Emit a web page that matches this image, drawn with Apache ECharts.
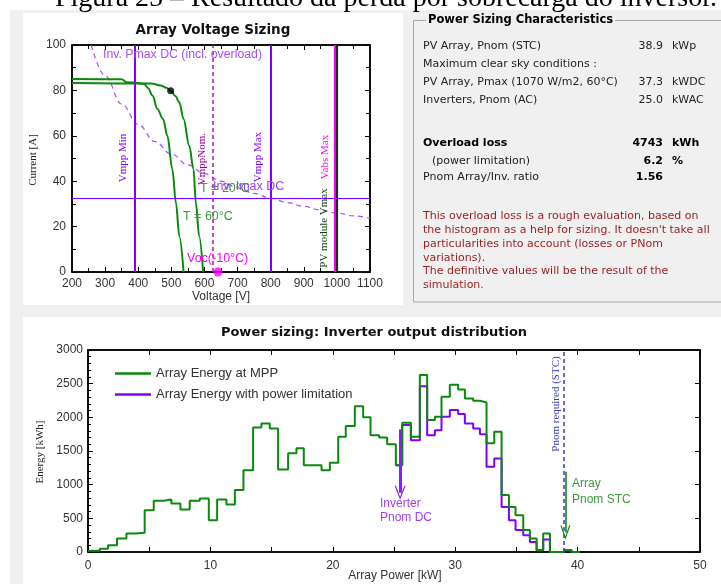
<!DOCTYPE html>
<html><head><meta charset="utf-8">
<script src="https://cdn.jsdelivr.net/npm/echarts@6/dist/echarts.min.js"></script>
<style>html,body{margin:0;padding:0;background:#fff}#c{width:721px;height:584px}</style>
</head><body><div id="c"></div>
<script>
// ---------- DATA ----------
// Array Voltage Sizing (V, A)
const ivVolt60 = [200, 350, 365, 400, 418, 430, 443, 458, 475, 488, 503, 514, 524, 537];
const ivCurr60 = [85.0, 84.9, 83.6, 83.3, 82.8, 81.0, 77.7, 71.8, 67.4, 60.0, 45.3, 30.5, 15.8, 0];
const ivVolt20 = [200, 440, 468, 485, 498, 512, 524, 537, 554, 567, 574, 584, 596];
const ivCurr20 = [83.3, 83.0, 82.2, 81.2, 79.9, 77.5, 74.8, 67.4, 55.6, 45.3, 30.5, 15.8, 0];
const pmaxVolt = [258, 300, 350, 400, 450, 500, 550, 600, 650, 700, 750, 800, 850, 900, 950, 1000, 1050, 1100];
const pmaxCurr = [100, 86.5, 74, 65, 57.5, 52, 47.2, 43.3, 40, 37.1, 34.6, 32.5, 30.6, 28.9, 27.3, 26, 24.7, 23.6];
const mppPoint = [498, 79.9];
const vocPoint = [641, 0];
const vmppMin = 390, vmppNom = 625, vmppMax = 800, vabsMax = 995, moduleVmax = 1001, imaxDC = 32.7;
const voltTicks = [200, 1100, 100];
const currTicks = [0, 100, 20];

// Power sizing histogram (kW bin left edges, kWh)
const binEdges = [0, 0.96, 1.64, 2.37, 3.14, 3.89, 4.63, 5.37, 6.19, 6.81,
  7.55, 8.31, 9.13, 9.87, 10.55, 11.31, 12.0, 12.7, 13.49, 14.17,
  14.85, 15.53, 16.35, 17.03, 17.63, 18.35, 19.08, 19.76, 20.44, 21.06,
  21.8, 22.48, 23.08, 23.79, 24.44, 25.15, 25.67, 26.38, 27.11, 27.71,
  28.34, 28.88, 29.56, 30.24, 30.79, 31.47, 32.02, 32.56, 33.19, 33.79,
  34.39, 34.93, 35.56, 36.1, 36.65, 37.19, 37.74, 38.9, 39.5, 40.2];
const energyMPP = [20, 50, 100, 200, 275, 285, 620, 760, 780, 720,
  630, 760, 795, 470, 780, 705, 920, 1215, 1850, 1910,
  1835, 1225, 1465, 1540, 1290, 1290, 1215, 1325, 1710, 1870,
  2165, 2000, 1735, 1700, 1600, 1290, 1920, 1710, 2630, 1960,
  2010, 2305, 2485, 2415, 2280, 2245, 2220, 1615, 1785, 845,
  670, 545, 325, 200, 25, 275, 0, 30, 0, 0];
const energyLimited = [20, 50, 100, 200, 275, 285, 620, 760, 780, 720,
  630, 760, 795, 470, 780, 705, 920, 1215, 1850, 1910,
  1835, 1225, 1465, 1540, 1290, 1290, 1215, 1325, 1710, 1870,
  2165, 2000, 1735, 1700, 1600, 1290, 1885, 1660, 2460, 1735,
  1810, 2010, 2110, 2050, 1910, 1835, 1750, 1265, 1390, 670,
  470, 325, 250, 150, 25, 185, 0, 30, 0, 0];
const invPnomDC = 25.5, invArrow = [1820, 880];
const pnomRequired = 38.85;
const arrayPnomSTC = 39.0, arrayArrow = [1190, 290];
const powerTicks = [0, 50, 5];
const energyTicks = [0, 3000, 500];

// ---------- CHART ----------
const GREEN = '#0a8a0a', PURPLE = '#8000ff', MAG = '#ff00ff';
const SANS = 'Liberation Sans', SERIF = 'Liberation Serif', UI = 'DejaVu Sans';
const chart = echarts.init(document.getElementById('c'), null, {renderer: 'canvas'});
const zip = (a, b) => a.map((v, i) => [v, b[i]]);
// the limited curve is hidden under the MPP curve until the limitation starts
const firstDiff = energyLimited.findIndex((v, i) => v !== energyMPP[i]);
const limitedData = zip(binEdges, energyLimited).slice(Math.max(0, firstDiff - 1));

function T(x, y, text, o) {
  o = o || {};
  return {type: 'text', x: x, y: y, z: 60, rotation: o.rot || 0, silent: true,
    style: {text: text, fill: o.color || '#222', fontSize: o.size || 11, fontFamily: o.family || UI,
      fontWeight: o.bold ? 'bold' : 'normal', align: o.align || 'left', verticalAlign: 'middle',
      backgroundColor: o.bg, padding: o.pad}};
}
const ROT = Math.PI / 2;
const chevron = 'path://M0,12 L5,0 L10,12 L8.8,12 L5,2.6 L1.2,12 Z';

const labelStyle = {color: '#333', fontSize: 12, fontFamily: SANS, formatter: v => String(v)};
function ax(extra) {
  return Object.assign({
    axisLine: {show: true, onZero: false, lineStyle: {color: '#000', width: 1.5}},
    axisTick: {show: true, inside: true, length: 5, lineStyle: {color: '#000', width: 1}},
    splitLine: {show: false}
  }, extra);
}

const RED = '#9b1c1c';
const graphics = [
  {type: 'rect', z: -100, shape: {x: 10, y: 10, width: 711, height: 574}, style: {fill: '#f0f0f0'}},
  {type: 'rect', z: -90, shape: {x: 23, y: 13, width: 380, height: 292}, style: {fill: '#fff'}},
  {type: 'rect', z: -90, shape: {x: 23, y: 317, width: 698, height: 267}, style: {fill: '#fff'}},
  T(386, -1.8, 'Figura 25 – Resultado da perda por sobrecarga do inversor.', {family: SERIF, size: 28, color: '#000', align: 'center'}),
  // group box
  {type: 'rect', z: -50, shape: {x: 413.5, y: 20.5, width: 330, height: 281.5}, style: {fill: 'none', stroke: '#a8a8a8', lineWidth: 1}},
  T(426, 20, 'Power Sizing Characteristics', {bold: true, size: 11.5, color: '#000', bg: '#f0f0f0', pad: [0, 2]}),
  T(423, 46.5, 'PV Array, Pnom (STC)'), T(663, 46.5, '38.9', {align: 'right'}), T(672, 46.5, 'kWp'),
  T(423, 64, 'Maximum clear sky conditions :'),
  T(423, 82.5, 'PV Array, Pmax (1070 W/m2, 60°C)'), T(663, 82.5, '37.3', {align: 'right'}), T(672, 82.5, 'kWDC'),
  T(423, 100, 'Inverters, Pnom (AC)'), T(663, 100, '25.0', {align: 'right'}), T(672, 100, 'kWAC'),
  T(423, 143.5, 'Overload loss', {bold: true, color: '#000'}), T(663, 143.5, '4743', {align: 'right', bold: true, color: '#000'}), T(672, 143.5, 'kWh', {bold: true, color: '#000'}),
  T(432, 161, '(power limitation)'), T(663, 161, '6.2', {align: 'right', bold: true, color: '#000'}), T(672, 161, '%', {bold: true, color: '#000'}),
  T(423, 177.5, 'Pnom Array/Inv. ratio'), T(663, 177.5, '1.56', {align: 'right', bold: true, color: '#000'}),
  T(423, 216, 'This overload loss is a rough evaluation, based on', {color: RED}),
  T(423, 230, "the histogram as a help for sizing. It doesn't take all", {color: RED}),
  T(423, 244, 'particularities into account (losses or PNom', {color: RED}),
  T(423, 258, 'variations).', {color: RED}),
  T(423, 271.5, 'The definitive values will be the result of the', {color: RED}),
  T(423, 285.5, 'simulation.', {color: RED}),
  // top-left chart annotations
  T(213, 30, 'Array Voltage Sizing', {family: UI, size: 13.5, bold: true, color: '#111', align: 'center'}),
  T(103, 55, 'Inv. Pmax DC (incl. overload)', {family: SANS, size: 12.3, color: '#a64dff'}),
  T(33, 160, 'Current [A]', {family: SERIF, size: 11, color: '#222', align: 'center', rot: ROT}),
  T(221, 297, 'Voltage [V]', {family: SANS, size: 12, color: '#333', align: 'center'}),
  T(123, 158, 'Vmpp Min', {family: SERIF, size: 11, color: PURPLE, align: 'center', rot: ROT}),
  T(202, 159, 'VmppNom.', {family: SERIF, size: 11, color: '#990099', align: 'center', rot: ROT}),
  T(258, 157, 'Vmpp Max', {family: SERIF, size: 11, color: PURPLE, align: 'center', rot: ROT}),
  T(325, 157, 'Vabs Max', {family: SERIF, size: 11, color: MAG, align: 'center', rot: ROT}),
  T(324, 228, 'PV module Vmax', {family: SERIF, size: 11, color: '#0b3b0b', align: 'center', rot: ROT}),
  T(200, 189, 'T = 20°C', {family: SANS, size: 12.5, color: '#3a9a3a'}),
  T(213, 187, 'Inv. Imax DC', {family: SANS, size: 12.5, color: '#9a44ff'}),
  T(183, 217, 'T = 60°C', {family: SANS, size: 12.5, color: '#3a9a3a'}),
  T(187, 259, 'Voc(-10°C)', {family: SANS, size: 12.5, color: MAG}),
  // bottom chart annotations
  T(374, 333, 'Power sizing: Inverter output distribution', {family: UI, size: 13, bold: true, color: '#111', align: 'center'}),
  T(40, 452, 'Energy [kWh]', {family: SERIF, size: 11, color: '#222', align: 'center', rot: ROT}),
  T(395, 576, 'Array Power [kW]', {family: SANS, size: 12, color: '#333', align: 'center'}),
  T(380, 504, 'Inverter', {family: SANS, size: 12, color: '#a040ff'}),
  T(380, 518, 'Pnom DC', {family: SANS, size: 12, color: '#a040ff'}),
  T(572, 484, 'Array', {family: SANS, size: 12, color: '#3a9a3a'}),
  T(572, 500, 'Pnom STC', {family: SANS, size: 12, color: '#3a9a3a'}),
  T(556, 404, 'Pnom required (STC)', {family: SERIF, size: 11, color: '#4040b0', align: 'center', rot: ROT})
];

const minor = (n, len) => ({show: true, splitNumber: n, length: len, lineStyle: {color: '#000'}});
const option = {
  backgroundColor: '#ffffff',
  animation: false,
  grid: [
    {left: 72, top: 45, width: 298, height: 227, show: true, backgroundColor: '#fff', borderColor: '#000', borderWidth: 1.5},
    {left: 88, top: 350, width: 612, height: 202, show: true, backgroundColor: '#fff', borderColor: '#000', borderWidth: 1.5}
  ],
  legend: {
    data: ['Array Energy at MPP', 'Array Energy with power limitation'],
    orient: 'vertical', left: 110, top: 362, itemWidth: 36, itemHeight: 2.5, itemGap: 8,
    icon: 'rect', selectedMode: false,
    textStyle: {color: '#333', fontSize: 13, fontFamily: SANS}
  },
  xAxis: [
    ax({gridIndex: 0, type: 'value', position: 'bottom', min: voltTicks[0], max: voltTicks[1], interval: voltTicks[2],
      minorTick: minor(2, 4), axisLabel: Object.assign({}, labelStyle, {margin: 6})}),
    ax({gridIndex: 0, type: 'value', position: 'top', min: voltTicks[0], max: voltTicks[1], interval: voltTicks[2],
      minorTick: minor(2, 4), axisLabel: {show: false}}),
    ax({gridIndex: 1, type: 'value', position: 'bottom', min: powerTicks[0], max: powerTicks[1], interval: powerTicks[2],
      axisLabel: Object.assign({}, labelStyle, {margin: 8, formatter: v => (v % 10 === 0 ? String(v) : '')})}),
    ax({gridIndex: 1, type: 'value', position: 'top', min: powerTicks[0], max: powerTicks[1], interval: powerTicks[2], axisLabel: {show: false}})
  ],
  yAxis: [
    ax({gridIndex: 0, type: 'value', position: 'left', min: currTicks[0], max: currTicks[1], interval: currTicks[2],
      minorTick: minor(2, 4), axisLabel: Object.assign({}, labelStyle, {margin: 6})}),
    ax({gridIndex: 0, type: 'value', position: 'right', min: currTicks[0], max: currTicks[1], interval: currTicks[2],
      minorTick: minor(2, 4), axisLabel: {show: false}}),
    ax({gridIndex: 1, type: 'value', position: 'left', min: energyTicks[0], max: energyTicks[1], interval: energyTicks[2],
      minorTick: minor(5, 3), axisLabel: Object.assign({}, labelStyle, {margin: 5})}),
    ax({gridIndex: 1, type: 'value', position: 'right', min: energyTicks[0], max: energyTicks[1], interval: energyTicks[2], axisLabel: {show: false}})
  ],
  graphic: graphics,
  series: [
    {type: 'line', name: 'Inv. Pmax DC', xAxisIndex: 0, yAxisIndex: 0, data: zip(pmaxVolt, pmaxCurr), smooth: 0.4, smoothMonotone: 'x',
      showSymbol: false, silent: true, lineStyle: {color: '#a64dff', width: 1.2, type: [5, 4]}, z: 3},
    {type: 'line', name: 'T60', xAxisIndex: 0, yAxisIndex: 0, data: zip(ivVolt60, ivCurr60), smooth: 0.35, smoothMonotone: 'x',
      showSymbol: false, silent: true, lineStyle: {color: GREEN, width: 2}, z: 4},
    {type: 'line', name: 'T20', xAxisIndex: 0, yAxisIndex: 0, data: zip(ivVolt20, ivCurr20), smooth: 0.35, smoothMonotone: 'x',
      showSymbol: false, silent: true, lineStyle: {color: GREEN, width: 2}, z: 4},
    {type: 'line', name: 'limits', xAxisIndex: 0, yAxisIndex: 0, data: [], silent: true, z: 5,
      markLine: {silent: true, symbol: ['none', 'none'], label: {show: false}, animation: false,
        data: [
          {xAxis: vmppMin, lineStyle: {color: PURPLE, width: 2, type: 'solid'}},
          {xAxis: vmppMax, lineStyle: {color: PURPLE, width: 2, type: 'solid'}},
          {xAxis: vmppNom, lineStyle: {color: '#a020a0', width: 1.5, type: [4, 3]}},
          {xAxis: vabsMax, lineStyle: {color: MAG, width: 2.2, type: 'solid'}},
          {xAxis: moduleVmax, lineStyle: {color: '#0b3b0b', width: 2.2, type: 'solid'}},
          {yAxis: imaxDC, lineStyle: {color: PURPLE, width: 1.2, type: 'solid'}}
        ]}},
    {type: 'scatter', name: 'MPP', xAxisIndex: 0, yAxisIndex: 0, data: [mppPoint], symbolSize: 7, itemStyle: {color: '#000'}, silent: true, z: 6},
    {type: 'scatter', name: 'Voc', xAxisIndex: 0, yAxisIndex: 0, data: [vocPoint], symbolSize: 9, itemStyle: {color: MAG}, clip: false, silent: true, z: 6},
    // bottom histogram
    {type: 'line', name: 'Array Energy with power limitation', xAxisIndex: 2, yAxisIndex: 2, data: limitedData,
      step: 'end', showSymbol: false, silent: true, color: PURPLE, lineStyle: {color: PURPLE, width: 2}, z: 3},
    {type: 'line', name: 'Array Energy at MPP', xAxisIndex: 2, yAxisIndex: 2, data: zip(binEdges, energyMPP),
      step: 'end', showSymbol: false, silent: true, color: GREEN, lineStyle: {color: GREEN, width: 2}, z: 4},
    {type: 'line', name: 'annot', xAxisIndex: 2, yAxisIndex: 2, data: [], silent: true, z: 6,
      markLine: {silent: true, symbol: ['none', 'none'], label: {show: false}, animation: false,
        data: [
          {xAxis: pnomRequired, lineStyle: {color: '#3838d0', width: 1.5, type: [4, 3]}},
          [{coord: [invPnomDC, invArrow[0]], symbol: 'none', lineStyle: {color: '#8a1cff', width: 3, type: 'solid'}},
           {coord: [invPnomDC, invArrow[1]], symbol: chevron, symbolSize: [11, 14]}],
          [{coord: [arrayPnomSTC, arrayArrow[0]], symbol: 'none', lineStyle: {color: '#0a7a0a', width: 1.5, type: 'solid'}},
           {coord: [arrayPnomSTC, arrayArrow[1]], symbol: chevron, symbolSize: [10, 14]}]
        ]}}
  ]
};
chart.setOption(option);
</script></body></html>
